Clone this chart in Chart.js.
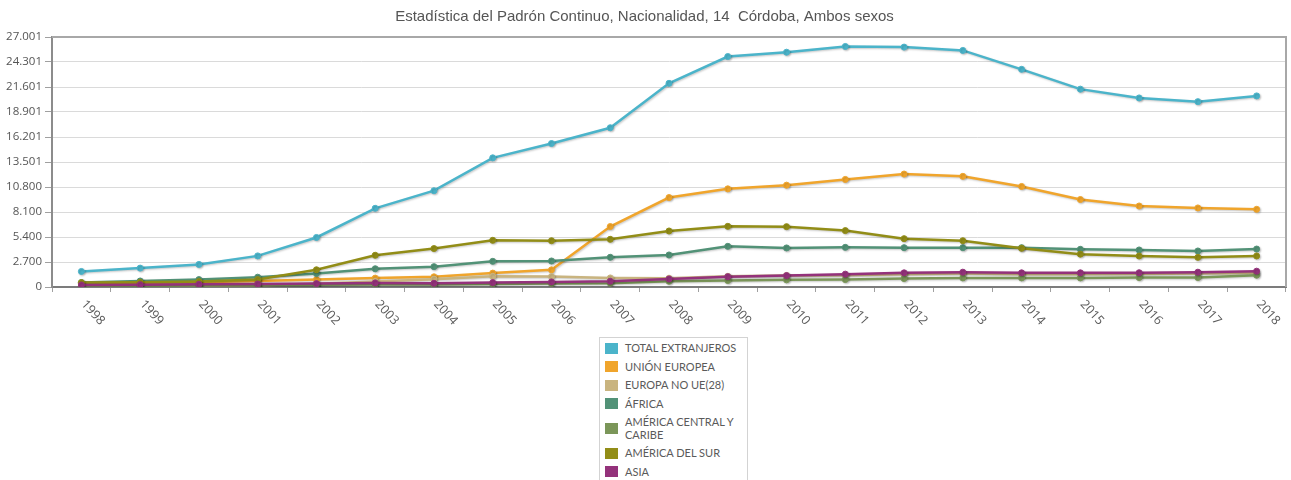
<!DOCTYPE html>
<html>
<head>
<meta charset="utf-8">
<script src="https://cdn.jsdelivr.net/npm/chart.js@4"></script>
<style>
  html, body { margin: 0; padding: 0; background: #fff; overflow: hidden; }
  #wrap { position: relative; width: 1291px; height: 336px; }
  #legend {
    position: absolute; left: 599px; top: 337px; width: 147px;
    border: 1px solid #d3d3d3; background: #fff; padding: 1px 0 2px 0;
    font: 11px Lato, "Open Sans", sans-serif; color: #5a5a5a;
  }
  .item { display: flex; align-items: center; padding: 3px 4px 3px 5px; line-height: 12.5px; }
  .sw { width: 13px; height: 11px; flex: none; margin-right: 7px; }
  .tx { width: 116px; }
</style>
</head>
<body>
<div id="wrap"><canvas id="line-chart"></canvas></div>
<div id="legend"></div>
<script>
var years = ['1998','1999','2000','2001','2002','2003','2004','2005','2006','2007','2008',
             '2009','2010','2011','2012','2013','2014','2015','2016','2017','2018'];

var totalExtranjeros = [1680,2040,2440,3360,5350,8500,10400,13950,15500,17200,22000,
                        24890,25360,25980,25910,25550,23510,21370,20420,20020,20640];
var unionEuropea     = [400,420,510,650,800,960,1100,1500,1850,6530,9660,
                        10600,11000,11620,12200,11950,10860,9450,8750,8540,8390];
var europaNoUe       = [90,110,140,190,350,600,850,1150,1130,980,950,
                        1150,1250,1260,1380,1450,1390,1380,1400,1450,1500];
var africa           = [475,650,800,1060,1460,1970,2200,2770,2810,3210,3460,
                        4390,4220,4280,4250,4250,4250,4070,4000,3890,4100];
var americaCentral   = [100,120,150,190,230,280,260,330,365,400,620,
                        700,770,800,910,985,985,985,1020,1020,1280];
var americaSur       = [475,500,584,800,1860,3430,4150,5040,5000,5150,6050,
                        6550,6520,6090,5220,5000,4180,3550,3350,3200,3350];
var asia             = [220,255,290,330,365,440,400,475,550,620,870,
                        1120,1230,1390,1530,1600,1530,1530,1540,1600,1710];

var yTickLabels = ['0','2.700','5.400','8.100','10.800','13.501','16.201','18.901','21.601','24.301','27.001'];

var series = [
  { label: 'TOTAL EXTRANJEROS', data: totalExtranjeros, color: '#4bb4ca' },
  { label: 'UNIÓN EUROPEA', data: unionEuropea, color: '#f0a52c' },
  { label: 'EUROPA NO UE(28)', data: europaNoUe, color: '#c9b47f' },
  { label: 'ÁFRICA', data: africa, color: '#529277' },
  { label: 'AMÉRICA CENTRAL Y CARIBE', data: americaCentral, color: '#7b9659' },
  { label: 'AMÉRICA DEL SUR', data: americaSur, color: '#928d17' },
  { label: 'ASIA', data: asia, color: '#94327b' }
];

// top/right frame of the plot
var framePlugin = {
  id: 'frame',
  beforeDatasetsDraw: function(chart) {
    var a = chart.chartArea, ctx = chart.ctx;
    ctx.save();
    ctx.strokeStyle = '#a8a8a8';
    ctx.lineWidth = 2;
    ctx.beginPath();
    ctx.moveTo(a.left, a.top);
    ctx.lineTo(a.right, a.top);
    ctx.lineTo(a.right, a.bottom);
    ctx.stroke();
    ctx.restore();
  }
};

// soft shadow under lines
var shadowPlugin = {
  id: 'shadow',
  beforeDatasetDraw: function(chart) {
    var ctx = chart.ctx;
    ctx.save();
    ctx.shadowColor = 'rgba(0,0,0,0.22)';
    ctx.shadowBlur = 2;
    ctx.shadowOffsetX = 1;
    ctx.shadowOffsetY = 1;
  },
  afterDatasetDraw: function(chart) {
    chart.ctx.restore();
  }
};

// x labels slanted down to the right
var xLabelPlugin = {
  id: 'xlabels',
  afterDraw: function(chart) {
    var sx = chart.scales.x, ctx = chart.ctx;
    ctx.save();
    ctx.fillStyle = '#5a5a5a';
    ctx.font = '12.5px "Open Sans", sans-serif';
    ctx.textAlign = 'left';
    ctx.textBaseline = 'middle';
    for (var i = 0; i < years.length; i++) {
      var x = sx.getPixelForTick(i);
      ctx.save();
      ctx.translate(x + 2, chart.chartArea.bottom + 15);
      ctx.rotate(48 * Math.PI / 180);
      ctx.fillText(years[i], 0, 0);
      ctx.restore();
    }
    ctx.restore();
  }
};

var ctx = document.getElementById('line-chart');
var myChart = new Chart(ctx, {
  type: 'line',
  data: {
    labels: years,
    datasets: series.map(function(s, i) {
      return {
        label: s.label,
        data: s.data,
        borderColor: s.color,
        backgroundColor: s.color,
        pointBackgroundColor: s.color,
        pointBorderColor: s.color,
        borderWidth: 2.5,
        pointRadius: 3,
        pointBorderWidth: 1,
        fill: false,
        tension: 0,
        order: series.length - i
      };
    })
  },
  options: {
    responsive: true,
    maintainAspectRatio: false,
    animation: false,
    events: [],
    layout: { padding: { left: 0, right: 2, top: 0, bottom: 0 } },
    plugins: {
      legend: { display: false },
      tooltip: { enabled: false },
      title: {
        display: true,
        text: 'Estadística del Padrón Continuo, Nacionalidad, 14  Córdoba, Ambos sexos',
        color: '#555',
        font: { family: '"Liberation Sans", Arial, sans-serif', size: 15, weight: 'normal' },
        padding: { top: 8, bottom: 11 }
      }
    },
    scales: {
      x: {
        offset: true,
        grid: { drawOnChartArea: false, offset: true, tickLength: 5, color: '#a0a0a0' },
        border: { color: '#7c7c7c', width: 2 },
        ticks: { display: false },
        afterFit: function(s) { s.height = 49; }
      },
      y: {
        min: 0,
        max: 27001,
        grid: { color: '#dadada', tickColor: '#a0a0a0', tickLength: 7 },
        border: { color: '#8c8c8c', width: 2 },
        ticks: {
          stepSize: 2700.1,
          color: '#555',
          font: { family: '"Open Sans", sans-serif', size: 11.5 },
          padding: 3,
          callback: function(v, i) { return yTickLabels[i]; }
        },
        afterFit: function(s) { s.width = 52; }
      }
    }
  },
  plugins: [framePlugin, shadowPlugin, xLabelPlugin]
});

// html legend built from the datasets
var legend = document.getElementById('legend');
myChart.data.datasets.forEach(function(ds) {
  var row = document.createElement('div');
  row.className = 'item';
  var sw = document.createElement('span');
  sw.className = 'sw';
  sw.style.background = ds.borderColor;
  var tx = document.createElement('span');
  tx.className = 'tx';
  tx.textContent = ds.label;
  row.appendChild(sw);
  row.appendChild(tx);
  legend.appendChild(row);
});
</script>
</body>
</html>
